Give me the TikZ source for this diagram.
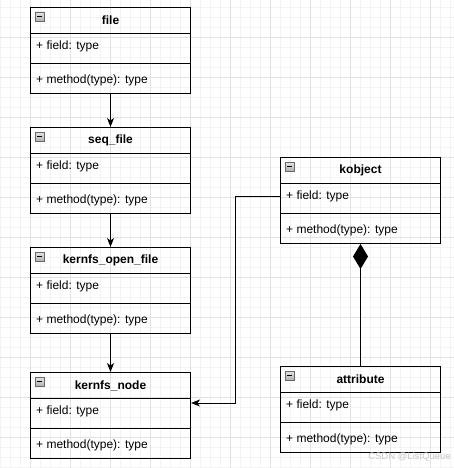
\documentclass[tikz,border=0pt]{standalone}
\usepackage{fontspec}
\setmainfont{Liberation Sans}
\usetikzlibrary{arrows.meta,positioning,calc}
\definecolor{GridMinor}{RGB}{243,243,243}
\definecolor{GridMajor}{RGB}{226,226,226}
\definecolor{IconGray}{RGB}{150,150,150}
\definecolor{MarkGray}{RGB}{200,200,200}
\tikzset{
  classhead/.style={draw,line width=1pt,minimum width=160pt,minimum height=26pt,
    inner sep=0pt,font=\fontsize{12}{14}\selectfont\bfseries},
  classrow/.style={draw,line width=1pt,minimum width=160pt,minimum height=30pt,inner sep=0pt},
  rowtext/.style={anchor=west,inner sep=0pt,font=\fontsize{12}{14}\selectfont},
  assoc/.style={line width=1pt,-{Stealth[length=9pt,width=7pt,inset=2.5pt]}},
  compos/.style={line width=1pt,-{Diamond[length=25pt,width=15pt]}},
}
% one class box: name, left, top, title
\newcommand{\umlclass}[4]{%
  \node[classhead,anchor=north west] (#1) at (#2,#3) {#4};
  \node[classrow,below=-1pt of #1] (#1-f) {};
  \node[classrow,below=-1pt of #1-f] (#1-m) {};
  \node[rowtext] (#1-ft) at ($(#1-f.north west)+(6,13)$) {+ field: type};
  \node[rowtext] (#1-mt) at ($(#1-m.north west)+(6,17)$) {+ method(type): type};
  \draw[top color=IconGray!25,bottom color=IconGray!75,draw=IconGray!70!black]
    ($(#1.north west)+(5,5)$) rectangle ++(9,9);
  \draw[line width=1.2pt] ($(#1.north west)+(7,9.5)$) -- ++(5,0);
}

\begin{document}
\begin{tikzpicture}[x=1pt,y=-1pt]
  \useasboundingbox (0,0) rectangle (454,468);
  \fill[white] (0,0) rectangle (454,468);
  % grid
  \foreach \gx in {0,10,...,450} \draw[GridMinor,line width=0.6pt] (\gx,0) -- (\gx,468);
  \foreach \gy in {7,17,...,467} \draw[GridMinor,line width=0.6pt] (0,\gy) -- (454,\gy);
  \foreach \gx in {30,70,...,430} \draw[GridMajor,line width=0.8pt] (\gx,0) -- (\gx,468);
  \foreach \gy in {37,77,...,437} \draw[GridMajor,line width=0.8pt] (0,\gy) -- (454,\gy);

  \umlclass{cfile}{30}{7}{file}
  \umlclass{cseq}{30}{127}{seq\_file}
  \umlclass{copen}{30}{247}{kernfs\_open\_file}
  \umlclass{cnode}{30}{372}{kernfs\_node}
  \umlclass{ckobj}{280}{157}{kobject}
  \umlclass{cattr}{280}{366}{attribute}

  \draw[assoc] (cfile-m.south) -- (cseq.north);
  \draw[assoc] (cseq-m.south) -- (copen.north);
  \draw[assoc] (copen-m.south) -- (cnode.north);
  \draw[assoc] ([yshift=2pt]ckobj-f.west) -- ++(-45,0) |- ([yshift=-5pt]cnode-f.north east);
  \draw[compos] (cattr.north) -- (ckobj-m.south);

  \node[text=MarkGray,font=\fontsize{9.5}{11}\selectfont,anchor=east,inner sep=0pt]
    (mark) at (451,457) {CSDN @ListQueue};
\end{tikzpicture}
\end{document}
